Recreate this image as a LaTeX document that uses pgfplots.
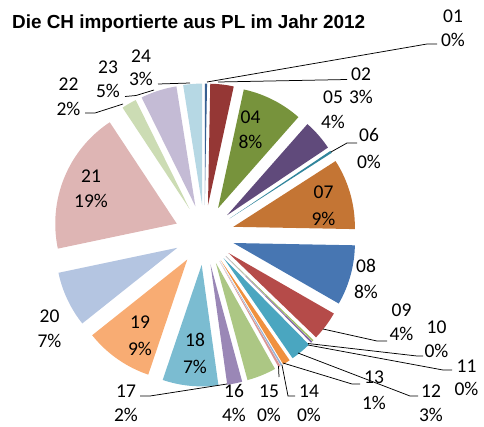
\documentclass[border=0pt]{standalone}
\usepackage{fontspec}
\setmainfont{Carlito}
\newfontfamily\titlefont{Liberation Sans}
\usepackage{pgfplots}
\usepackage{pgfplotstable}
\pgfplotsset{compat=1.18}

\definecolor{slice0}{HTML}{376092}
\definecolor{slice1}{HTML}{953735}
\definecolor{slice2}{HTML}{77933C}
\definecolor{slice3}{HTML}{604A7B}
\definecolor{slice4}{HTML}{31859C}
\definecolor{slice5}{HTML}{C47534}
\definecolor{slice6}{HTML}{4776B2}
\definecolor{slice7}{HTML}{B54B49}
\definecolor{slice8}{HTML}{9BBB59}
\definecolor{slice9}{HTML}{8064A2}
\definecolor{slice10}{HTML}{4AA6C0}
\definecolor{slice11}{HTML}{F0913F}
\definecolor{slice12}{HTML}{95B3D7}
\definecolor{slice13}{HTML}{D99694}
\definecolor{slice14}{HTML}{ACC784}
\definecolor{slice15}{HTML}{9A87B6}
\definecolor{slice16}{HTML}{7BBCD1}
\definecolor{slice17}{HTML}{F8AC73}
\definecolor{slice18}{HTML}{B4C5E1}
\definecolor{slice19}{HTML}{DEB5B4}
\definecolor{slice20}{HTML}{CCDCB4}
\definecolor{slice21}{HTML}{C4BBD5}
\definecolor{slice22}{HTML}{B6D8E4}

% share of each category in percent (clockwise from 12 o'clock)
\pgfplotstableread{
id pct
01 0.3
02 3.1
04 8.1
05 4.1
06 0.3
07 9.4
08 8.0
09 3.9
10 0.2
11 0.2
12 2.8
13 1.0
14 0.2
15 0.3
16 3.9
17 2.0
18 7.4
19 9.1
20 7.4
21 19.0
22 2.0
23 4.8
24 2.5
}\pietable

\tikzset{lbl/.style={anchor=base, inner sep=0pt, font=\fontsize{19.5}{23}\selectfont}}
\newcommand\lbl[5]{%
  \node[lbl] at (axis cs:#1,#2) {#3};
  \node[lbl] at (axis cs:#1,#4) {#5};}

\begin{document}
\begin{tikzpicture}
\begin{axis}[scale only axis, width=484pt, height=426pt,
  xmin=0, xmax=484, ymin=0, ymax=426, y dir=reverse,
  hide axis, clip=false]
\def\cum{0}
\pgfplotsforeachungrouped \i in {0,...,22}{%
  \pgfplotstablegetelem{\i}{pct}\of\pietable
  \let\spct\pgfplotsretval
  \pgfmathsetmacro\sa{\cum*3.6}%
  \pgfmathsetmacro\sb{(\cum+\spct)*3.6}%
  \pgfmathsetmacro\smid{(\sa+\sb)/2}%
  \pgfmathsetmacro\ox{204.5+30*sin(\smid)}%
  \pgfmathsetmacro\oy{235-30*cos(\smid)}%
  \pgfmathsetmacro\cum{\cum+\spct}%
  \edef\cmd{\noexpand\addplot[fill=slice\i, draw=none, samples=40, domain=\sa:\sb, variable=\noexpand\t]
    ({\ox+121.5*sin(\noexpand\t)}, {\oy-121.5*cos(\noexpand\t)}) -- (axis cs:\ox,\oy) -- cycle;}%
  \cmd
}

% leader lines
\addplot[black, line width=0.75pt] coordinates {(207,82) (427,44) (437,44)};
\addplot[black, line width=0.75pt] coordinates {(218,82) (347,79.5)};
\addplot[black, line width=0.75pt] coordinates {(331,152) (347,143) (357,143)};
\addplot[black, line width=0.75pt] coordinates {(323,329) (377,341) (387,341)};
\addplot[black, line width=0.75pt] coordinates {(308,343.5) (417,356) (423,356)};
\addplot[black, line width=0.75pt] coordinates {(308,345) (443,370) (452,370)};
\addplot[black, line width=0.75pt] coordinates {(298,353) (410,396) (418,396)};
\addplot[black, line width=0.75pt] coordinates {(283,363) (352,384) (360,384)};
\addplot[black, line width=0.75pt] coordinates {(282,365) (288,396) (295,396)};
\addplot[black, line width=0.75pt] coordinates {(278.5,366) (279,377)};
\addplot[black, line width=0.75pt] coordinates {(140,396) (150,396) (227,384)};
\addplot[black, line width=0.75pt] coordinates {(85,113) (95,113) (123,104)};
\addplot[black, line width=0.75pt] coordinates {(125,96.5) (136,95.5) (154,90)};
\addplot[black, line width=0.75pt] coordinates {(158,84) (190,83)};

% labels
\lbl{453}{22}{01}{46.7}{0\%}
\lbl{361}{80}{02}{103}{3\%}
\lbl{250.5}{123}{04}{148}{8\%}
\lbl{333}{103}{05}{128.5}{4\%}
\lbl{369}{141}{06}{168}{0\%}
\lbl{323.5}{198}{07}{225}{9\%}
\lbl{366}{272}{08}{298}{8\%}
\lbl{401.5}{316}{09}{340}{4\%}
\lbl{436.5}{333}{10}{357}{0\%}
\lbl{466.5}{372.5}{11}{395}{0\%}
\lbl{431}{397}{12}{421.5}{3\%}
\lbl{374}{383}{13}{409}{1\%}
\lbl{309}{397}{14}{421.5}{0\%}
\lbl{269}{397}{15}{421.5}{0\%}
\lbl{234}{397}{16}{421.5}{4\%}
\lbl{126}{397}{17}{421.5}{2\%}
\lbl{195}{346.7}{18}{373}{7\%}
\lbl{140}{328}{19}{355}{9\%}
\lbl{49.5}{322}{20}{347}{7\%}
\lbl{91}{182}{21}{207}{19\%}
\lbl{68.5}{90}{22}{115}{2\%}
\lbl{108}{73}{23}{97}{5\%}
\lbl{141}{62}{24}{85}{3\%}

\node[anchor=base west, inner sep=0pt, font=\titlefont\bfseries\fontsize{18.9}{22}\selectfont]
  at (axis cs:12,28.3) {Die CH importierte aus PL im Jahr 2012};
\end{axis}
\path (current axis.south west) rectangle (current axis.north east);
\end{tikzpicture}
\end{document}
